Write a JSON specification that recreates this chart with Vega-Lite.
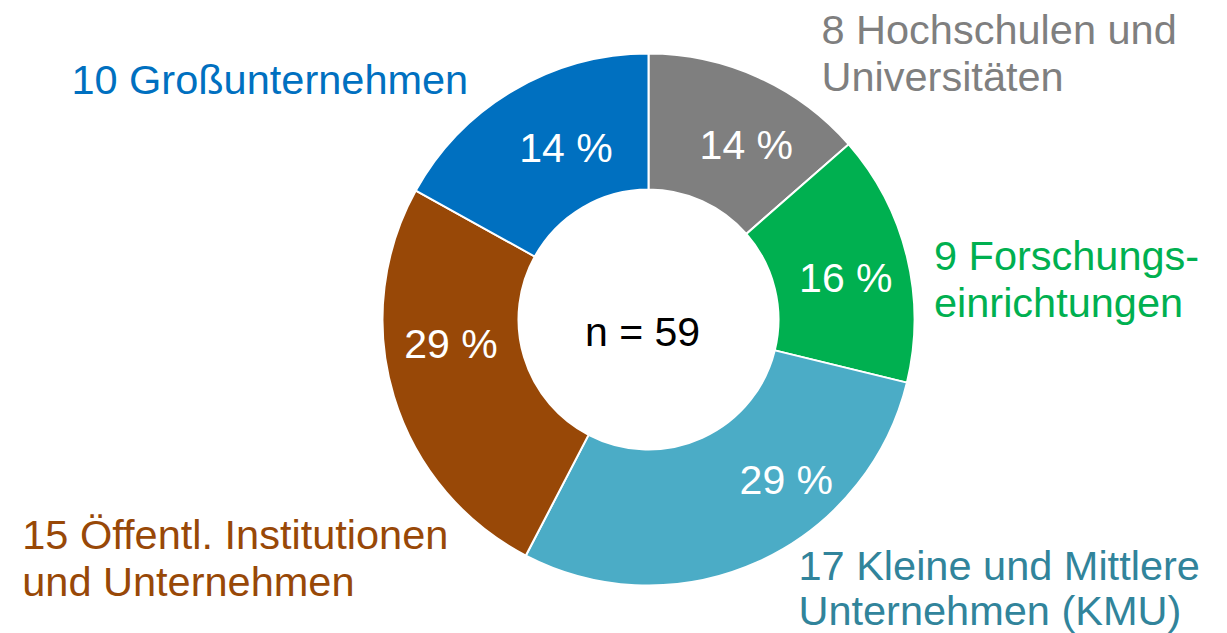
{
  "$schema": "https://vega.github.io/schema/vega-lite/v6.json",
  "autosize": "none",
  "width": 1157,
  "height": 627,
  "padding": {"left": 70, "top": 6, "right": 0, "bottom": 0},
  "background": "white",
  "config": {"view": {"stroke": null}, "text": {"font": "Liberation Sans"}},
  "data": {
    "values": [
      {"idx": 1, "cat": "Hochschulen und Universitäten", "n": 8, "pct": "14 %", "label": ["8 Hochschulen und", "Universitäten"]},
      {"idx": 2, "cat": "Forschungseinrichtungen", "n": 9, "pct": "16 %", "label": ["9 Forschungs-", "einrichtungen"]},
      {"idx": 3, "cat": "Kleine und Mittlere Unternehmen (KMU)", "n": 17, "pct": "29 %", "label": ["17 Kleine und Mittlere", "Unternehmen (KMU)"]},
      {"idx": 4, "cat": "Öffentl. Institutionen und Unternehmen", "n": 15, "pct": "29 %", "label": ["15 Öffentl. Institutionen", "und Unternehmen"]},
      {"idx": 5, "cat": "Großunternehmen", "n": 10, "pct": "14 %", "label": ["10 Großunternehmen"]}
    ]
  },
  "encoding": {
    "theta": {"field": "n", "type": "quantitative", "stack": true},
    "order": {"field": "idx", "type": "quantitative"}
  },
  "layer": [
    {
      "mark": {"type": "arc", "outerRadius": 266, "innerRadius": 130, "stroke": "white", "strokeWidth": 2},
      "encoding": {
        "color": {
          "field": "cat", "type": "nominal", "legend": null,
          "scale": {
            "domain": ["Hochschulen und Universitäten", "Forschungseinrichtungen", "Kleine und Mittlere Unternehmen (KMU)", "Öffentl. Institutionen und Unternehmen", "Großunternehmen"],
            "range": ["#7F7F7F", "#00B050", "#4BACC6", "#984807", "#0070C0"]
          }
        }
      }
    },
    {
      "mark": {"type": "text", "radius": 198, "fontSize": 41, "color": "white", "align": "center", "baseline": "middle", "dx": 16, "dy": 8},
      "encoding": {"text": {"condition": {"test": "datum.idx == 1", "field": "pct"}, "value": ""}}
    },
    {
      "mark": {"type": "text", "radius": 198, "fontSize": 41, "color": "white", "align": "center", "baseline": "middle", "dx": 5, "dy": 7},
      "encoding": {"text": {"condition": {"test": "datum.idx == 2", "field": "pct"}, "value": ""}}
    },
    {
      "mark": {"type": "text", "radius": 198, "fontSize": 41, "color": "white", "align": "center", "baseline": "middle", "dx": 56, "dy": -18},
      "encoding": {"text": {"condition": {"test": "datum.idx == 3", "field": "pct"}, "value": ""}}
    },
    {
      "mark": {"type": "text", "radius": 198, "fontSize": 41, "color": "white", "align": "center", "baseline": "middle", "dx": -8, "dy": -31},
      "encoding": {"text": {"condition": {"test": "datum.idx == 4", "field": "pct"}, "value": ""}}
    },
    {
      "mark": {"type": "text", "radius": 198, "fontSize": 41, "color": "white", "align": "center", "baseline": "middle", "dx": 18, "dy": 1},
      "encoding": {"text": {"condition": {"test": "datum.idx == 5", "field": "pct"}, "value": ""}}
    },
    {
      "mark": {"type": "text", "radius": 300, "fontSize": 41.5, "lineHeight": 47, "color": "#7F7F7F", "align": "left", "baseline": "alphabetic", "dx": 49, "dy": -2},
      "encoding": {"text": {"condition": {"test": "datum.idx == 1", "field": "label"}, "value": ""}}
    },
    {
      "mark": {"type": "text", "radius": 300, "fontSize": 41.5, "lineHeight": 47, "color": "#00B050", "align": "left", "baseline": "alphabetic", "dx": -6, "dy": 22},
      "encoding": {"text": {"condition": {"test": "datum.idx == 2", "field": "label"}, "value": ""}}
    },
    {
      "mark": {"type": "text", "radius": 300, "fontSize": 41.5, "lineHeight": 45, "color": "#31849B", "align": "left", "baseline": "alphabetic", "dx": 26, "dy": -13},
      "encoding": {"text": {"condition": {"test": "datum.idx == 3", "field": "label"}, "value": ""}}
    },
    {
      "mark": {"type": "text", "radius": 300, "fontSize": 41.5, "lineHeight": 47, "color": "#984807", "align": "left", "baseline": "alphabetic", "dx": -339, "dy": 143},
      "encoding": {"text": {"condition": {"test": "datum.idx == 4", "field": "label"}, "value": ""}}
    },
    {
      "mark": {"type": "text", "radius": 300, "fontSize": 41.5, "color": "#0070C0", "align": "right", "baseline": "alphabetic", "dx": -28, "dy": 33},
      "encoding": {"text": {"condition": {"test": "datum.idx == 5", "field": "label"}, "value": ""}}
    },
    {
      "mark": {"type": "text", "radius": 0, "fontSize": 41, "color": "black", "align": "center", "baseline": "middle", "dx": -6, "dy": 14},
      "encoding": {"text": {"condition": {"test": "datum.idx == 1", "value": "n = 59"}, "value": ""}}
    }
  ]
}
